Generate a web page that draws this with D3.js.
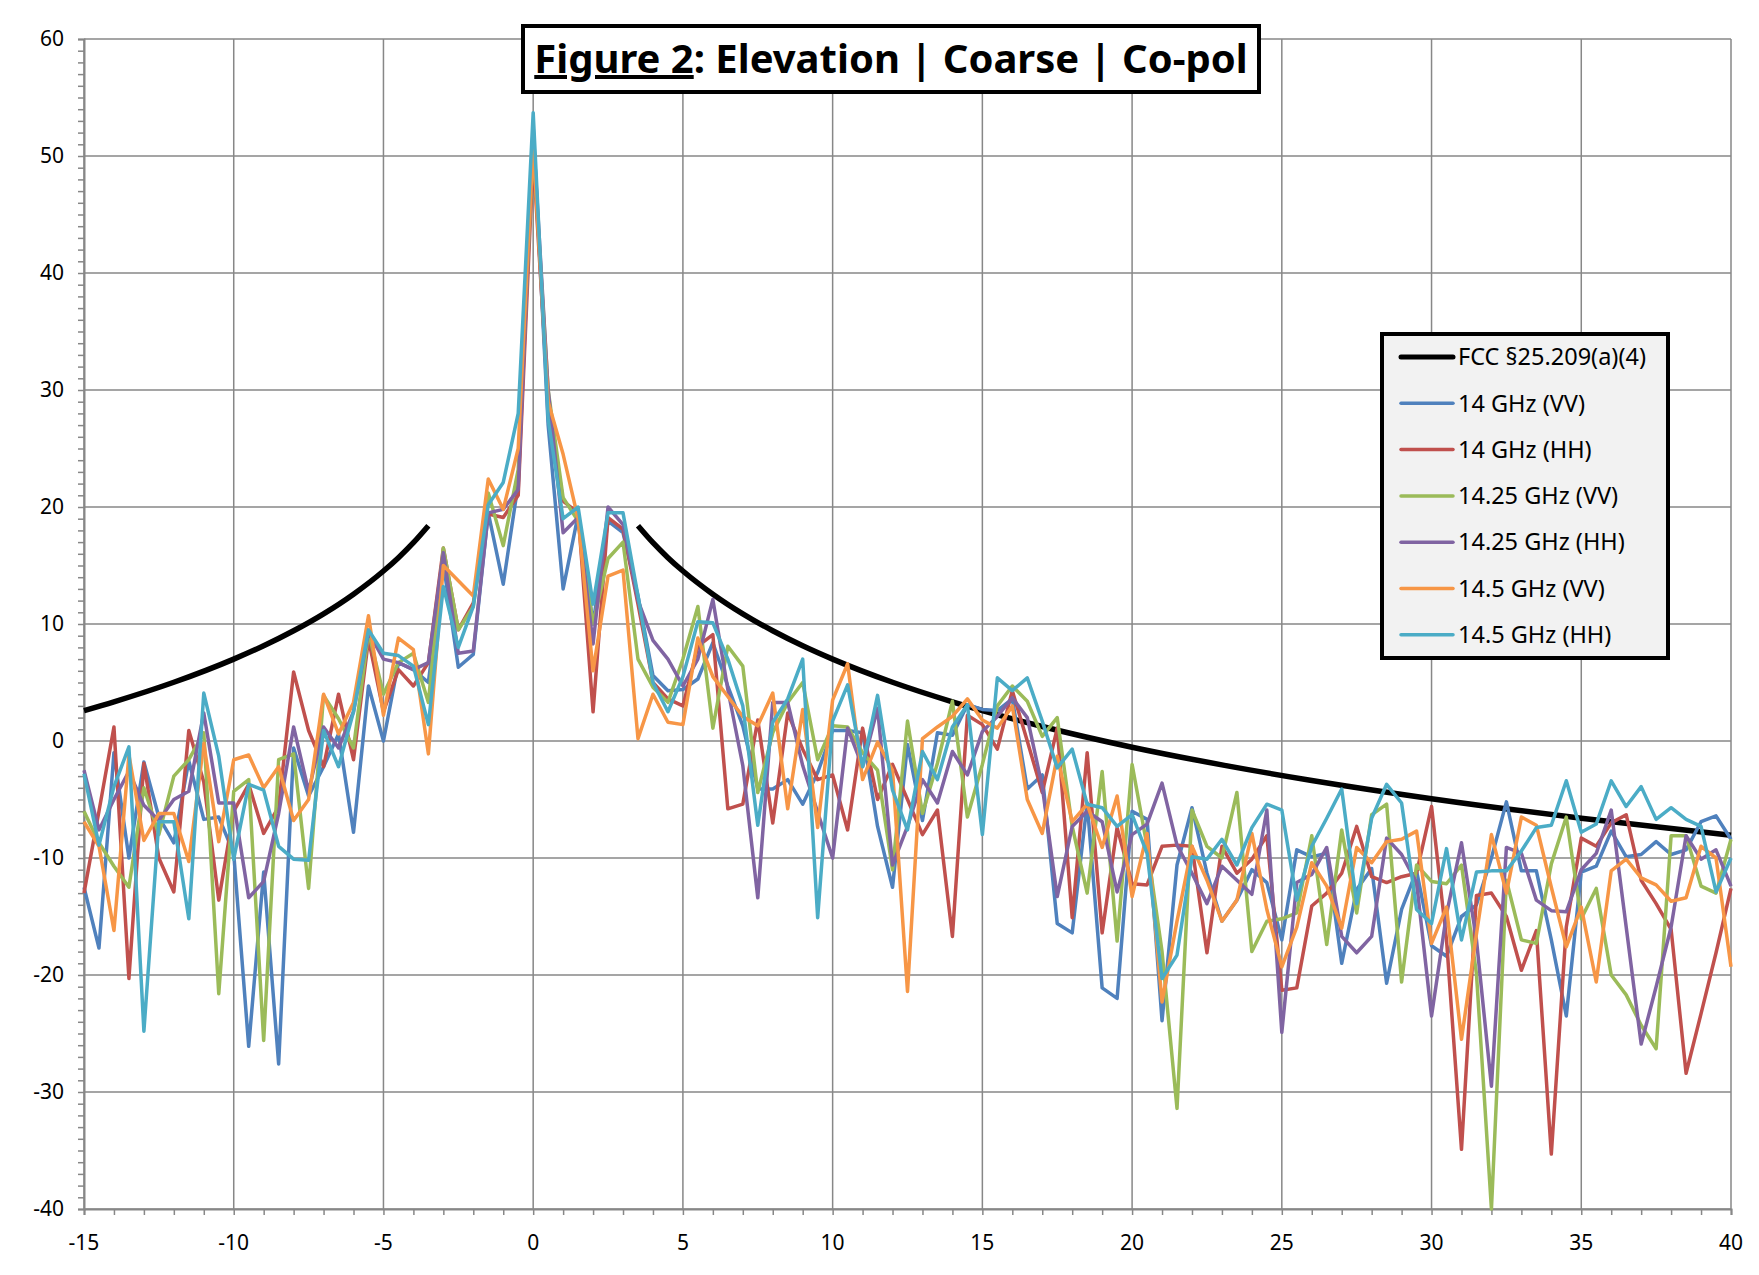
<!DOCTYPE html>
<html>
<head>
<meta charset="utf-8">
<script src="https://cdn.jsdelivr.net/npm/d3@7"></script>
<style>
  body { margin: 0; background: #fff; }
  svg { display: block; font-family: "Noto Sans", "Open Sans", sans-serif; }
</style>
</head>
<body>
<svg width="1759" height="1275"></svg>
<script>
// angle axis, every 0.5 degree
const angles = [
  -15, -14.5, -14, -13.5, -13, -12.5, -12, -11.5, -11, -10.5,
  -10, -9.5, -9, -8.5, -8, -7.5, -7, -6.5, -6, -5.5,
  -5, -4.5, -4, -3.5, -3, -2.5, -2, -1.5, -1, -0.5,
  0, 0.5, 1, 1.5, 2, 2.5, 3, 3.5, 4, 4.5,
  5, 5.5, 6, 6.5, 7, 7.5, 8, 8.5, 9, 9.5,
  10, 10.5, 11, 11.5, 12, 12.5, 13, 13.5, 14, 14.5,
  15, 15.5, 16, 16.5, 17, 17.5, 18, 18.5, 19, 19.5,
  20, 20.5, 21, 21.5, 22, 22.5, 23, 23.5, 24, 24.5,
  25, 25.5, 26, 26.5, 27, 27.5, 28, 28.5, 29, 29.5,
  30, 30.5, 31, 31.5, 32, 32.5, 33, 33.5, 34, 34.5,
  35, 35.5, 36, 36.5, 37, 37.5, 38, 38.5, 39, 39.5,
  40
];

const vv14 = [
  -12.5, -17.7, -1, -10, -1.8, -6.5, -8.7, -1.7, -6.7, -6.5,
  -9.6, -26.1, -11.2, -27.6, -0.6, -4.7, -2.2, 0.6, -7.8, 4.7,
  0, 6.7, 6.1, 5, 15.2, 6.3, 7.4, 19.5, 13.4, 22,
  52.5, 27, 13, 19.3, 10, 18.8, 17.8, 12.4, 5.6, 4.3,
  4.4, 5.3, 8.4, 4.7, 1.3, -4.1, -4.1, -3.3, -5.4, -2.7,
  0.9, 0.9, 0.7, -7.3, -12.5, -0.3, -6.8, 0.7, 0.5, 3.1,
  2.7, 2.6, 3.6, -4.1, -2.9, -15.6, -16.4, -5.3, -21.1, -22,
  -6, -6.7, -23.9, -10.6, -5.7, -11.3, -15.4, -13.6, -11, -12.1,
  -17, -9.3, -9.9, -9.6, -19, -12.7, -10.9, -20.7, -14.4, -11.1,
  -17.5, -18.4, -15, -14, -10, -5.2, -11.1, -11.1, -17, -23.5,
  -11.2, -10.7, -7.7, -9.9, -9.7, -8.6, -9.7, -9.3, -6.9, -6.4,
  -8.4
];
const hh14 = [
  -13, -6, 1.2, -20.3, -1.9, -10, -12.9, 0.9, -3.5, -13.6,
  -6, -3.7, -7.9, -5.6, 5.9, 0.9, -2.2, 4, -1.6, 8.7,
  2.5, 6.1, 4.7, 6.7, 16.5, 9.5, 11.8, 19.4, 19.1, 21,
  50, 29, 20.5, 19.5, 2.5, 19.1, 18.1, 11.7, 5, 3.6,
  3, 8.1, 9.1, -5.8, -5.4, 1.8, -7, 2.4, -0.7, -3.3,
  -2.9, -7.6, 1.1, -5, -2, -5, -8, -5.9, -16.7, 2.2,
  1.4, -0.7, 4.3, 0, -4.4, 1.1, -15.1, -1, -16.4, -7.4,
  -12.2, -12.3, -9, -8.9, -9, -18.1, -9, -11.3, -10.1, -8.1,
  -21.3, -21.1, -14.1, -13, -11.3, -7.3, -11.6, -12.1, -11.6, -11.3,
  -5.6, -17, -34.9, -13.2, -13, -15, -19.6, -16.2, -35.3, -15.9,
  -8.3, -9, -7, -6.3, -11.9, -13.9, -16.1, -28.4, -23.3, -18.1,
  -12.6
];
const vv1425 = [
  -6, -8.7, -10.7, -12.5, -4, -8, -3, -1.6, 0.7, -21.6,
  -4.3, -3.3, -25.6, -1.6, -1.1, -12.6, 3.9, 1.9, -0.6, 9.3,
  4, 6.7, 7.5, 3.3, 16.5, 9.5, 11.5, 21.2, 16.7, 23.2,
  51, 30, 20.8, 18.8, 10, 15.6, 17, 7, 4.6, 3.3,
  7, 11.5, 1.1, 8.1, 6.4, -4.4, 0.7, 3.3, 5, -1.6,
  1.3, 1.2, -1, -2.5, -11, 1.7, -6.2, -1.9, 3.4, -6.5,
  -2, 3, 4.7, 3.4, 0.4, 2, -7.3, -13, -2.6, -17.1,
  -2, -9, -18, -31.4, -5.9, -9, -10, -4.4, -18, -15.4,
  -15.2, -14.7, -8.1, -17.4, -7.6, -14.7, -6.3, -5.4, -20.6, -10.6,
  -12, -12.2, -10.6, -19.9, -40, -11.9, -17, -17.3, -10.5, -6.5,
  -15.2, -12.6, -20, -21.7, -24.3, -26.3, -8.1, -8.1, -12.4, -13,
  -8.4
];
const hh1425 = [
  -2.5, -7.6, -5, -2.6, -5.5, -6.8, -5, -4.3, 2.4, -5.3,
  -5.3, -13.4, -12, -6.2, 1.2, -4.3, 1.2, -0.6, 2.5, 9.3,
  7, 6.7, 6.1, 6.7, 16.1, 7.5, 7.7, 19.5, 19.8, 21.5,
  52, 30, 17.8, 19.1, 8.3, 20, 18.5, 12, 8.6, 7,
  4.7, 7, 12.1, 4.4, -2.1, -13.4, 3.3, 3.3, -2.1, -6.1,
  -10, 1.1, -2.2, 2.8, -10.6, -7.3, -3.3, -5.3, -0.9, -2.9,
  0.8, 2.1, 3.7, 2, -3.9, -13.3, -7.3, -6, -6.9, -12.9,
  -8, -7.1, -3.6, -8.9, -11.3, -13.9, -10.7, -11.9, -13.1, -5.9,
  -24.9, -12.1, -11.4, -9.1, -16.7, -18.1, -16.7, -8.3, -9.7, -12.1,
  -23.5, -14.8, -8.7, -17, -29.5, -9.1, -9.6, -13.6, -14.5, -14.6,
  -11, -9.6, -5.9, -15.9, -25.9, -21, -15.9, -8.1, -10.1, -9.3,
  -12.4
];
const vv145 = [
  -6.9, -9, -16.2, -1.2, -8.5, -6.2, -6.2, -10.3, -0.2, -8.6,
  -1.6, -1.2, -4, -2.2, -6.8, -5, 4, 0.6, 3.3, 10.7,
  2.2, 8.8, 7.8, -1.1, 15, 13.7, 12.4, 22.4, 19.8, 25,
  51, 29, 24.5, 19, 6, 14.1, 14.6, 0.2, 4, 1.6,
  1.4, 8.8, 5.5, 3.8, 2.1, 1.3, 4.1, -5.8, 2.7, -7.4,
  3.5, 6.6, -3.3, -0.1, -2.5, -21.4, 0.2, 1.2, 2.1, 3.6,
  1.8, 1.1, 3, -5, -7.9, -1.3, -6.9, -5.4, -9.1, -4.7,
  -13.3, -7.9, -22.3, -15.4, -9, -11.9, -15.4, -13.6, -7.9, -14.4,
  -19.3, -15.9, -10.4, -12.4, -16, -9.1, -10.4, -8.6, -8.4, -7.7,
  -17.3, -14.2, -25.5, -16.5, -8, -13, -6.5, -7.2, -12.5, -17.6,
  -14.2, -20.6, -11.1, -10.1, -11.7, -12.3, -13.7, -13.4, -9, -10,
  -19.3
];
const hh145 = [
  -2.8, -8.9, -3.9, -0.5, -24.8, -6.9, -6.9, -15.2, 4.1, -1.3,
  -10.1, -3.7, -4.2, -9, -10.1, -10.2, 0.9, -2.2, 2.5, 9.5,
  7.5, 7.3, 6.4, 1.4, 13.2, 8, 11.5, 20.2, 22.1, 28,
  53.7, 27.5, 19, 20, 11.7, 19.5, 19.5, 12.4, 5, 2.5,
  5.5, 10.2, 10.1, 7, 3, -7.2, 1.6, 3.6, 7, -15.1,
  1.7, 4.8, -2.2, 3.9, -4.2, -7.6, -0.9, -3.3, 1.2, 3.1,
  -8, 5.4, 4.3, 5.4, 1.7, -2.3, -0.7, -5.4, -5.7, -7.3,
  -6.3, -9.6, -20.3, -18.3, -9.9, -10.1, -8.4, -10.6, -7.4, -5.4,
  -5.9, -13.6, -9, -6.6, -4.1, -13.9, -6.6, -3.7, -5.3, -14.4,
  -15.6, -9.2, -17, -11.2, -11.1, -11.1, -9.4, -7.4, -7.2, -3.4,
  -7.8, -7.1, -3.4, -5.6, -3.9, -6.7, -5.7, -6.7, -7.3, -12.9,
  -10
];

// FCC envelope (two branches)
const fccLeftAngles = [-15, -14, -12, -10, -9, -8, -7, -6, -5, -4.5, -4, -3.5];
const fccLeftValues = [2.6, 3.35, 5.02, 7.0, 8.14, 9.42, 10.87, 12.55, 14.53, 15.67, 16.95, 18.4];
const fccRightAngles = [3.5, 4, 4.5, 5, 6, 7, 8, 9, 10, 12, 14, 15, 17, 20, 23, 26, 30, 35, 40];
const fccRightValues = [18.4, 16.95, 15.67, 14.53, 12.55, 10.87, 9.42, 8.14, 7.0, 5.02, 3.35, 2.6, 1.24, -0.53, -2.04, -3.37, -4.93, -6.6, -8.05];

const seriesNames = ["14 GHz (VV)", "14 GHz (HH)", "14.25 GHz (VV)", "14.25 GHz (HH)", "14.5 GHz (VV)", "14.5 GHz (HH)"];
const seriesValues = [vv14, hh14, vv1425, hh1425, vv145, hh145];
const seriesColors = ["#4f81bd", "#c0504d", "#9bbb59", "#8064a2", "#f79646", "#4bacc6"];
const fccName = "FCC §25.209(a)(4)";

const xTicks = [-15, -10, -5, 0, 5, 10, 15, 20, 25, 30, 35, 40];
const yTicks = [-40, -30, -20, -10, 0, 10, 20, 30, 40, 50, 60];

const svg = d3.select("svg");
const plotLeft = 84, plotRight = 1731, plotTop = 39, plotBottom = 1209;

const x = d3.scaleLinear().domain([-15, 40]).range([plotLeft, plotRight]);
const y = d3.scaleLinear().domain([-40, 60]).range([plotBottom, plotTop]);

const grid = svg.append("g");
grid.selectAll(".vg").data(xTicks).join("line")
    .attr("x1", d => x(d)).attr("x2", d => x(d))
    .attr("y1", plotTop).attr("y2", plotBottom)
    .attr("stroke", "#878787").attr("stroke-width", 1.5);
grid.selectAll(".hg").data(yTicks).join("line")
    .attr("x1", plotLeft).attr("x2", plotRight)
    .attr("y1", d => y(d)).attr("y2", d => y(d))
    .attr("stroke", "#878787").attr("stroke-width", 1.5);

// axes with minor ticks every 1 unit
const yAxis = svg.append("g")
    .attr("transform", `translate(${plotLeft},0)`)
    .call(d3.axisLeft(y).tickValues(d3.range(-40, 61, 1)).tickSize(6).tickFormat(""));
const xAxis = svg.append("g")
    .attr("transform", `translate(0,${plotBottom})`)
    .call(d3.axisBottom(x).tickValues(d3.range(-15, 41, 1)).tickSize(6).tickFormat(""));
[yAxis, xAxis].forEach(a => {
  a.select(".domain").attr("stroke", "#878787").attr("stroke-width", 2);
  a.selectAll(".tick line").attr("stroke", "#878787").attr("stroke-width", 1.5);
});

svg.append("g").selectAll("text").data(yTicks).join("text")
    .attr("x", plotLeft - 20).attr("y", d => y(d)).attr("dy", "0.35em")
    .attr("text-anchor", "end").attr("font-size", 21).attr("fill", "#000")
    .text(d => d);
svg.append("g").selectAll("text").data(xTicks).join("text")
    .attr("x", d => x(d)).attr("y", plotBottom + 41)
    .attr("text-anchor", "middle").attr("font-size", 21).attr("fill", "#000")
    .text(d => d);

const line = d3.line().x(d => x(d[0])).y(d => y(d[1]));
const smooth = d3.line().x(d => x(d[0])).y(d => y(d[1])).curve(d3.curveMonotoneX);

const plot = svg.append("g");
plot.append("path")
    .attr("d", smooth(d3.zip(fccLeftAngles, fccLeftValues)))
    .attr("fill", "none").attr("stroke", "#000").attr("stroke-width", 5.5);
plot.append("path")
    .attr("d", smooth(d3.zip(fccRightAngles, fccRightValues)))
    .attr("fill", "none").attr("stroke", "#000").attr("stroke-width", 5.5);

seriesValues.forEach((vals, i) => {
  plot.append("path")
      .attr("d", line(d3.zip(angles, vals)))
      .attr("fill", "none")
      .attr("stroke", seriesColors[i])
      .attr("stroke-width", 3.5)
      .attr("stroke-linejoin", "round");
});

// title
const title = svg.append("g");
title.append("rect")
    .attr("x", 523).attr("y", 26).attr("width", 736).attr("height", 66)
    .attr("fill", "#fff").attr("stroke", "#000").attr("stroke-width", 4);
const tt = title.append("text")
    .attr("x", 891).attr("y", 73).attr("text-anchor", "middle")
    .attr("font-size", 40).attr("font-weight", "bold").attr("fill", "#000");
tt.append("tspan").attr("text-decoration", "underline").text("Figure 2");
tt.append("tspan").text(": Elevation | Coarse | Co-pol");

// legend
const legend = svg.append("g");
legend.append("rect")
    .attr("x", 1382).attr("y", 334).attr("width", 286).attr("height", 324)
    .attr("fill", "#f2f2f2").attr("stroke", "#000").attr("stroke-width", 4);
const legNames = [fccName].concat(seriesNames);
const legColors = ["#000"].concat(seriesColors);
legNames.forEach((n, i) => {
  const ly = 357 + i * 46.3;
  legend.append("line")
      .attr("x1", 1401).attr("x2", 1453).attr("y1", ly).attr("y2", ly)
      .attr("stroke", legColors[i]).attr("stroke-width", i === 0 ? 5 : 3.5)
      .attr("stroke-linecap", "round");
  legend.append("text")
      .attr("x", 1458).attr("y", ly).attr("dy", "0.35em")
      .attr("font-size", 23.5).attr("fill", "#000")
      .text(n);
});
</script>
</body>
</html>
